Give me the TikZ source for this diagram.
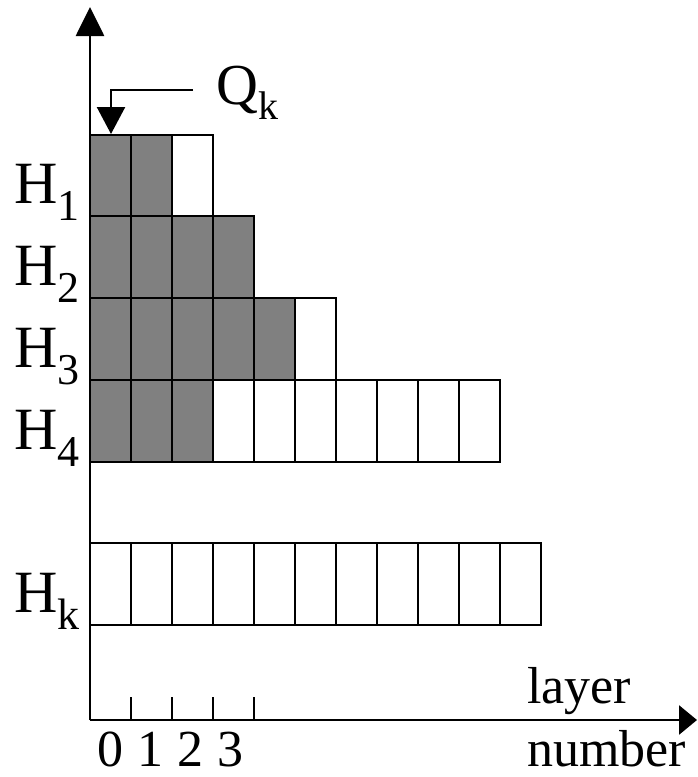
\documentclass[tikz,border=0pt]{standalone}
\usepackage{fontspec}
\setmainfont{Liberation Serif}
\usetikzlibrary{arrows.meta}
\begin{document}
\begin{tikzpicture}[x=1pt,y=-1pt,
  cell/.style={draw=black,line width=2.8pt,anchor=north west,minimum width=41pt,minimum height=82pt,inner sep=0pt,outer sep=0pt},
  full/.style={cell,fill=black!50},
  empty/.style={cell,fill=white},
  axis/.style={line width=2.8pt},
  hlab/.style={anchor=base west,inner sep=0pt},
  big/.style={font=\fontsize{52}{52}\selectfont},
  tick/.style={line width=2pt}]
\useasboundingbox[fill=white] (0,0) rectangle (697,777);
% coordinates for axes
\coordinate (O) at (90,720);
\coordinate (Ytop) at (90,7);
\coordinate (Xend) at (697,720);
% rows
\foreach \n/\g/\y in {1/2/135, 2/4/216, 3/5/298, 4/3/380}{
  \pgfmathsetmacro{\tot}{\n==1?3:(\n==2?4:(\n==3?6:10))}
  \foreach \i in {1,...,\tot}{
    \pgfmathsetmacro{\xx}{90+41*(\i-1)}
    \ifnum\i>\g
      \node[empty] (r\n c\i) at (\xx,\y) {};
    \else
      \node[full] (r\n c\i) at (\xx,\y) {};
    \fi
  }
}
\foreach \i in {1,...,11}{
  \pgfmathsetmacro{\xx}{90+41*(\i-1)}
  \node[empty] (rk c\i) at (\xx,543) {};
}
% axes
\draw[axis,-{Triangle[length=29pt,width=28pt]}] (O) -- (Ytop);
\draw[axis,-{Triangle[length=18pt,width=29pt]}] (O) -- (Xend);
% ticks
\foreach \i/\xx in {1/131,2/172,3/213,4/254}{
  \coordinate (t\i a) at (\xx,697);
  \coordinate (t\i b) at (\xx,720);
  \draw[tick] (t\i a) -- (t\i b);
}
% Q_k arrow
\coordinate (q1) at (193,90);
\coordinate (q2) at (111,90);
\coordinate (q3) at (111,134);
\draw[line width=2.4pt,-{Triangle[length=27pt,width=28pt]}] (q1) -- (q2) -- (q3);
\node[hlab] (Qk) at (216,104) {\fontsize{58}{58}\selectfont Q\raisebox{-15pt}{\fontsize{40}{40}\selectfont k}};
% H labels
\node[hlab] (H1) at (14,203) {\fontsize{60}{60}\selectfont H\raisebox{-17pt}{\fontsize{44}{44}\selectfont 1}};
\node[hlab] (H2) at (14,285) {\fontsize{60}{60}\selectfont H\raisebox{-17pt}{\fontsize{44}{44}\selectfont 2}};
\node[hlab] (H3) at (14,367) {\fontsize{60}{60}\selectfont H\raisebox{-17pt}{\fontsize{44}{44}\selectfont 3}};
\node[hlab] (H4) at (14,449) {\fontsize{60}{60}\selectfont H\raisebox{-17pt}{\fontsize{44}{44}\selectfont 4}};
\node[hlab] (Hk) at (14,612) {\fontsize{60}{60}\selectfont H\raisebox{-17pt}{\fontsize{44}{44}\selectfont k}};
% axis labels
\node[hlab,big] (layer) at (527,703) {layer};
\node[hlab,big] (number) at (527,766) {number};
\node[anchor=base,inner sep=0pt,big] (d0) at (110,766) {0};
\node[anchor=base,inner sep=0pt,big] (d1) at (150,766) {1};
\node[anchor=base,inner sep=0pt,big] (d2) at (190,766) {2};
\node[anchor=base,inner sep=0pt,big] (d3) at (230,766) {3};
\end{tikzpicture}
\end{document}
